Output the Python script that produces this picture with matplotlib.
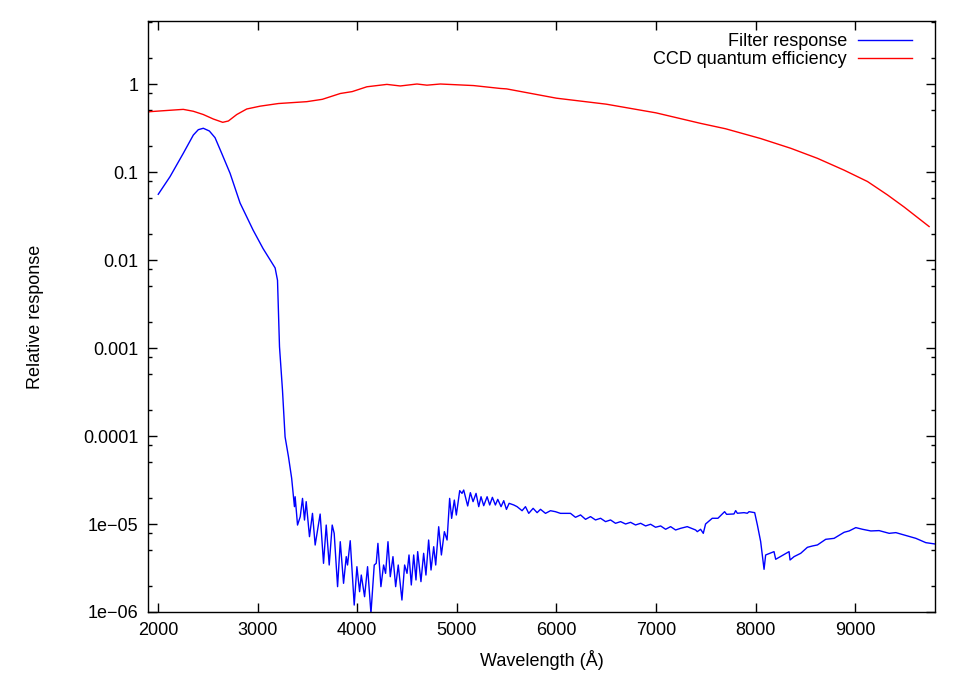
import numpy as np
import matplotlib
matplotlib.use("Agg")
import matplotlib.pyplot as plt
from matplotlib.ticker import FixedLocator, LogLocator, NullFormatter

plt.rcParams['font.family'] = ['Liberation Sans', 'DejaVu Sans']
plt.rcParams['font.size'] = 13

# CCD quantum efficiency
ccd_wave = [1900, 1920, 2087, 2254, 2355, 2455, 2556, 2650, 2707, 2791, 2891,
            3025, 3209, 3494, 3650, 3830, 3950, 4097, 4298, 4432, 4600, 4700,
            4834, 5000, 5168, 5437, 5500, 6000, 6500, 7000, 7447, 7698, 8050,
            8352, 8620, 8887, 9122, 9322, 9490, 9741]
ccd_qe = [0.48, 0.485, 0.50, 0.515, 0.49, 0.45, 0.40, 0.367, 0.38, 0.45, 0.52,
          0.56, 0.60, 0.63, 0.67, 0.78, 0.82, 0.93, 0.99, 0.95, 1.0, 0.97,
          1.0, 0.98, 0.96, 0.89, 0.88, 0.69, 0.59, 0.47, 0.357, 0.31, 0.24,
          0.186, 0.143, 0.105, 0.078, 0.055, 0.040, 0.024]

# filter response, stored as log10 of the response
filter_wave = [2003, 2121, 2254, 2355, 2405, 2455, 2516, 2573, 2640, 2724, 2824,
               2955, 3055, 3176, 3200, 3220, 3250, 3276, 3310, 3342,
               3370, 3377, 3401, 3428, 3451, 3471, 3488, 3521, 3551, 3578, 3628,
               3662, 3689, 3719, 3749, 3769, 3803, 3830, 3863, 3890, 3903, 3930,
               3970, 3997, 4024, 4041, 4074, 4104, 4138, 4171, 4191, 4208, 4238,
               4265, 4285, 4309, 4332, 4359, 4386, 4412, 4449, 4476, 4500, 4520,
               4543, 4567, 4590, 4607, 4640, 4667, 4690, 4717, 4741, 4768, 4788,
               4818, 4845, 4875, 4902, 4928, 4948, 4975, 4995, 5029, 5052, 5069,
               5109, 5136, 5163, 5193, 5220, 5243, 5270, 5304, 5330, 5357, 5387,
               5411, 5444, 5471, 5498, 5525, 5572, 5605, 5655, 5689, 5722, 5766,
               5806, 5840, 5890, 5940,
               5990, 6040, 6141, 6191, 6242, 6292, 6342, 6392, 6443, 6493, 6543,
               6593, 6644, 6694, 6744, 6794, 6845, 6895, 6945, 6995, 7046, 7096,
               7146, 7196, 7247, 7313, 7397, 7414, 7447, 7474, 7497, 7564, 7621,
               7688, 7708, 7782, 7799, 7816, 7883, 7916, 7933, 7990, 8017, 8050,
               8084, 8100, 8184, 8201, 8335, 8345, 8385, 8452, 8519, 8569, 8620,
               8703, 8787, 8888, 8938, 9005, 9072, 9156, 9239, 9340, 9407, 9524,
               9608, 9708, 9800]
filter_log10 = [-1.253, -1.053, -0.788, -0.580, -0.519, -0.503, -0.534, -0.610,
                -0.788, -1.015, -1.352, -1.660, -1.870, -2.090, -2.230, -2.985,
                -3.480, -4.010, -4.235, -4.480,
                -4.803, -4.690, -5.012, -4.917, -4.709, -4.955, -4.746, -5.144,
                -4.879, -5.239, -4.887, -5.447, -5.012, -5.466, -5.012, -5.106,
                -5.712, -5.201, -5.674, -5.371, -5.466, -5.190, -5.921, -5.485,
                -5.769, -5.580, -5.826, -5.485, -6.015, -5.466, -5.447, -5.220,
                -5.712, -5.466, -5.561, -5.201, -5.599, -5.371, -5.712, -5.466,
                -5.864, -5.466, -5.561, -5.352, -5.693, -5.352, -5.636, -5.314,
                -5.655, -5.333, -5.580, -5.182, -5.523, -5.258, -5.466, -5.031,
                -5.352, -5.087, -5.182, -4.709, -4.936, -4.728, -4.898, -4.621,
                -4.652, -4.614, -4.795, -4.644, -4.746, -4.652, -4.803, -4.690,
                -4.792, -4.690, -4.784, -4.697, -4.784, -4.720, -4.803, -4.735,
                -4.834, -4.765, -4.784, -4.803, -4.849, -4.803, -4.879, -4.822,
                -4.871, -4.833, -4.879, -4.849,
                -4.860, -4.879, -4.879, -4.924, -4.897, -4.947, -4.916, -4.954,
                -4.935, -4.973, -4.954, -4.992, -4.973, -5.000, -4.981, -5.011,
                -4.992, -5.022, -5.003, -5.037, -5.022, -5.060, -5.030, -5.068,
                -5.049, -5.030, -5.068, -5.087, -5.060, -5.106, -5.000, -4.935,
                -4.935, -4.860, -4.890, -4.886, -4.848, -4.878, -4.871, -4.878,
                -4.860, -4.871, -5.011, -5.200, -5.515, -5.352, -5.314, -5.401,
                -5.314, -5.409, -5.371, -5.333, -5.265, -5.250, -5.238, -5.174,
                -5.163, -5.094, -5.079, -5.041, -5.060, -5.079, -5.075, -5.106,
                -5.098, -5.136, -5.163, -5.212, -5.227]

y_ticks = [1e-6, 1e-5, 1e-4, 1e-3, 1e-2, 1e-1, 1]
y_tick_labels = ["1e\u221206", "1e\u221205", "0.0001", "0.001", "0.01", "0.1", "1"]
x_ticks = [2000, 3000, 4000, 5000, 6000, 7000, 8000, 9000]

fig = plt.figure(figsize=(9.63, 6.73), dpi=100)
ax = fig.add_axes([148 / 963, 61 / 673, 787 / 963, 591 / 673])

ax.plot(filter_wave, np.power(10.0, filter_log10), color='#0000ff', lw=1.0,
        label='Filter response')
ax.plot(ccd_wave, ccd_qe, color='#ff0000', lw=1.0,
        label='CCD quantum efficiency')

ax.set_yscale('log')
ax.set_xlim(1900, 9800)
ax.set_ylim(1e-6, 5.2)

ax.set_xticks(x_ticks)
ax.set_xticklabels([str(t) for t in x_ticks])
ax.yaxis.set_major_locator(FixedLocator(y_ticks))
ax.set_yticklabels(y_tick_labels)
ax.yaxis.set_minor_locator(LogLocator(base=10, subs=[2, 5, 8], numticks=20))
ax.yaxis.set_minor_formatter(NullFormatter())
ax.xaxis.set_minor_locator(FixedLocator([]))

ax.tick_params(which='both', direction='in', top=True, right=True, width=1.0)
ax.tick_params(which='major', length=6.5, pad=7)
ax.tick_params(which='minor', length=3.2)
for s in ax.spines.values():
    s.set_linewidth(1.0)

ax.set_xlabel("Wavelength (\u00c5)", labelpad=8)
ax.set_ylabel("Relative response", labelpad=28)

ax.legend(loc='upper right', markerfirst=False, frameon=False, handlelength=3.0,
          handletextpad=0.6, labelspacing=0.05, borderaxespad=0.0,
          bbox_to_anchor=(0.9797, 0.992))

fig.savefig("out.png", dpi=100)
